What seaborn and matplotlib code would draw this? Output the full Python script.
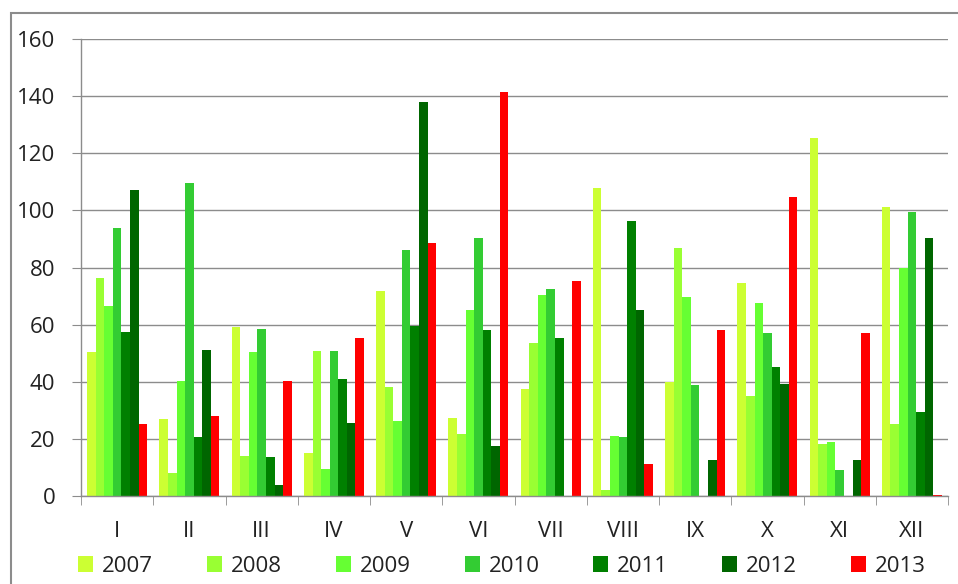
import pandas as pd
import matplotlib
matplotlib.use("Agg")
import matplotlib.pyplot as plt
import seaborn as sns

# monthly values per year
months = ["I", "II", "III", "IV", "V", "VI", "VII", "VIII", "IX", "X", "XI", "XII"]
years = ["2007", "2008", "2009", "2010", "2011", "2012", "2013"]

v2007 = [50.5, 27.0, 59.3, 14.9, 71.8, 27.4, 37.4, 107.8, 40.0, 74.6, 125.3, 101.1]
v2008 = [76.4, 8.1, 14.0, 50.7, 38.3, 21.6, 53.6, 2.2, 86.8, 35.1, 18.1, 25.3]
v2009 = [66.5, 40.4, 50.5, 9.4, 26.1, 65.2, 70.2, 21.1, 69.6, 67.4, 18.9, 79.8]
v2010 = [94.0, 109.5, 58.4, 50.7, 86.3, 90.5, 72.4, 20.6, 38.7, 57.1, 9.0, 99.4]
v2011 = [57.5, 20.7, 13.6, 40.8, 59.6, 58.0, 55.3, 96.2, 0, 45.0, 0, 29.3]
v2012 = [107.3, 51.2, 3.7, 25.6, 138.1, 17.6, 0, 65.2, 12.6, 39.1, 12.6, 90.5]
v2013 = [25.2, 27.9, 40.4, 55.3, 88.5, 141.6, 75.1, 11.2, 58.0, 104.7, 57.1, 0.5]

colors = ["#CCFF33", "#99FF33", "#66FF33", "#33CC33", "#008000", "#006600", "#FF0000"]

series = [v2007, v2008, v2009, v2010, v2011, v2012, v2013]
rows = []
for year, vals in zip(years, series):
    for m, v in zip(months, vals):
        rows.append({"month": m, "year": year, "value": v})
df = pd.DataFrame(rows)

sns.set_style("white")
plt.rcParams["font.family"] = ["Open Sans", "DejaVu Sans"]

fig = plt.figure(figsize=(9.58, 5.84), dpi=100)
ax = fig.add_axes([0.0846, 0.1507, 0.905, 0.7825])

sns.barplot(data=df, x="month", y="value", hue="year", order=months,
            hue_order=years, palette=colors, saturation=1, width=0.83,
            errorbar=None, ax=ax, legend=True, linewidth=0, edgecolor="none")

ax.set_ylim(0, 160)
ax.set_xlim(-0.5, 11.5)
ax.set_yticks(range(0, 161, 20))
ax.yaxis.grid(True, color="#8c8c8c", linewidth=1)
ax.set_axisbelow(True)
ax.set_xlabel("")
ax.set_ylabel("")

for s in ["top", "right"]:
    ax.spines[s].set_visible(False)
for s in ["left", "bottom"]:
    ax.spines[s].set_color("#8c8c8c")
    ax.spines[s].set_linewidth(1)

ax.tick_params(axis="y", length=6.5, color="#8c8c8c", labelsize=16, pad=12,
               left=True, labelcolor="#222222")
ax.set_xticks([i - 0.5 for i in range(13)], minor=True)
ax.tick_params(axis="x", which="major", length=0, labelsize=16, pad=18,
               labelcolor="#222222")
ax.tick_params(axis="x", which="minor", length=6.5, color="#8c8c8c", bottom=True)

handles, labels = ax.get_legend_handles_labels()
ax.get_legend().remove()
fig.legend(handles, labels, loc="lower center", bbox_to_anchor=(0.524, -0.022),
           ncol=7, frameon=False, fontsize=16, handlelength=0.68,
           handleheight=0.68, handletextpad=0.4, columnspacing=2.42,
           labelcolor="#222222")

# outer chart frame
frame = plt.Rectangle((11 / 958, -0.1), 1.2, 1.1 - 13 / 584,
                      transform=fig.transFigure, fill=False,
                      edgecolor="#8c8c8c", linewidth=1.5)
fig.patches.append(frame)

fig.savefig("out.png", dpi=100)
